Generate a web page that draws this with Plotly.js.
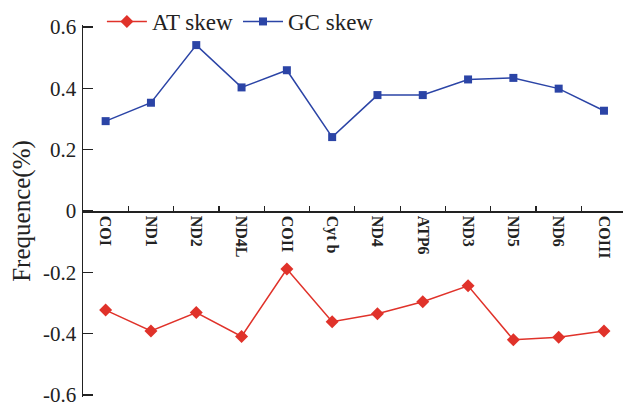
<!DOCTYPE html>
<html><head><meta charset="utf-8">
<script src="https://cdn.plot.ly/plotly-3.0.1.min.js"></script>
<style>html,body{margin:0;padding:0;background:#fff}#chart{width:623px;height:402px}</style>
</head><body><div id="chart"></div>
<script>
const genes = ["COI","ND1","ND2","ND4L","COII","Cyt b","ND4","ATP6","ND3","ND5","ND6","COIII"];
const atSkew = [-0.323,-0.391,-0.331,-0.409,-0.189,-0.361,-0.335,-0.296,-0.244,-0.420,-0.412,-0.391];
const gcSkew = [0.293,0.353,0.541,0.403,0.459,0.241,0.378,0.378,0.429,0.434,0.399,0.327];
const yTicks = [0.6,0.4,0.2,0,-0.2,-0.4,-0.6];
const yTickText = ["0.6","0.4","0.2","0","-0.2","-0.4","-0.6"];

const red = "#e0322a", blue = "#2b44a6";
const serif = "Liberation Serif";
const traces = [
  {x: genes, y: atSkew, name: "AT skew", mode: "lines+markers", type: "scatter",
   line: {color: red, width: 1.5}, marker: {symbol: "diamond", size: 10, color: red}},
  {x: genes, y: gcSkew, name: "GC skew", mode: "lines+markers", type: "scatter",
   line: {color: blue, width: 1.5}, marker: {symbol: "square", size: 8, color: blue}}
];
const layout = {
  width: 623, height: 402,
  margin: {l: 83, r: 0, t: 22, b: 5},
  paper_bgcolor: "#fff", plot_bgcolor: "#fff",
  font: {family: serif, color: "#222"},
  showlegend: true,
  legend: {orientation: "h", x: 0.035, y: 1.01, xanchor: "left", yanchor: "middle",
           font: {family: serif, size: 23, color: "#222"}, bgcolor: "rgba(0,0,0,0)",
           itemwidth: 40, tracegroupgap: 0},
  xaxis: {type: "category", range: [-0.5, 11.42], anchor: "free", position: 0.5,
          showline: true, linecolor: "#222", linewidth: 1.5, showgrid: false, zeroline: false,
          ticks: "inside", ticklen: 5, tickwidth: 1.2, tickcolor: "#222", tickson: "boundaries",
          tickangle: 90, tickfont: {family: serif, size: 16, color: "#222", weight: "bold"}},
  yaxis: {range: [-0.6065, 0.6065], tickvals: yTicks, ticktext: yTickText, ticklabeloverflow: "allow",
          showline: true, linecolor: "#222", linewidth: 1.5, showgrid: false, zeroline: false,
          ticks: "inside", ticklen: 10, tickwidth: 1.5, tickcolor: "#222", ticklabelstandoff: 1,
          tickfont: {family: serif, size: 21, color: "#222"},
          title: {text: "Frequence(%)", font: {family: serif, size: 25, color: "#222"}, standoff: 5}}
};
Plotly.newPlot("chart", traces, layout, {displayModeBar: false, staticPlot: true});
</script></body></html>
